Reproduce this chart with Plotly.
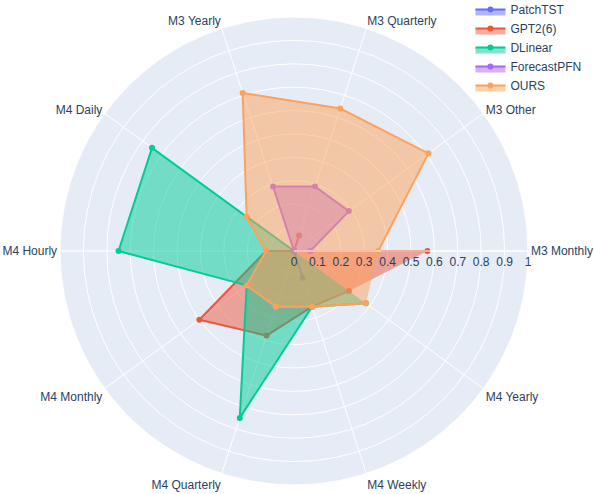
import plotly.graph_objects as go

categories = ["M3 Monthly", "M3 Other", "M3 Quarterly", "M3 Yearly", "M4 Daily",
              "M4 Hourly", "M4 Monthly", "M4 Quarterly", "M4 Weekly", "M4 Yearly"]

patchtst = [0, 0, 0, 0, 0, 0, 0, 0, 0.12, 0]
gpt2 = [0.57, 0, 0.07, 0, 0, 0.12, 0.50, 0.38, 0.25, 0.29]
dlinear = [0, 0, 0, 0, 0.75, 0.75, 0.25, 0.75, 0.25, 0.38]
forecastpfn = [0.07, 0.29, 0.29, 0.29, 0, 0, 0, 0, 0, 0]
ours = [0.36, 0.71, 0.64, 0.71, 0.25, 0.12, 0.25, 0.25, 0.25, 0.38]

series = [
    ("PatchTST", patchtst),
    ("GPT2(6)", gpt2),
    ("DLinear", dlinear),
    ("ForecastPFN", forecastpfn),
    ("OURS", ours),
]

fig = go.Figure()
for name, vals in series:
    fig.add_trace(go.Scatterpolar(
        r=vals,
        theta=categories,
        mode="lines+markers",
        fill="toself",
        name=name,
    ))

# polar disc placed by hand: centre ~(294, 251), radius ~234 px
fig.update_layout(
    width=594,
    height=494,
    template="plotly",
    font=dict(family="Arial", size=12),
    polar=dict(
        domain=dict(x=[60 / 594, 528 / 594], y=[9 / 494, 477 / 494]),
        radialaxis=dict(visible=True, range=[0, 1], dtick=0.1),
    ),
    legend=dict(x=0.792, y=1.01, xanchor="left", yanchor="top",
                bgcolor="rgba(0,0,0,0)"),
    margin=dict(l=0, r=0, t=0, b=0, autoexpand=False),
)

# drop the default body margin so the figure sits at the window's corner
fig.write_html("out.html", config={"displayModeBar": False},
               post_script="document.body.style.margin='0';")
